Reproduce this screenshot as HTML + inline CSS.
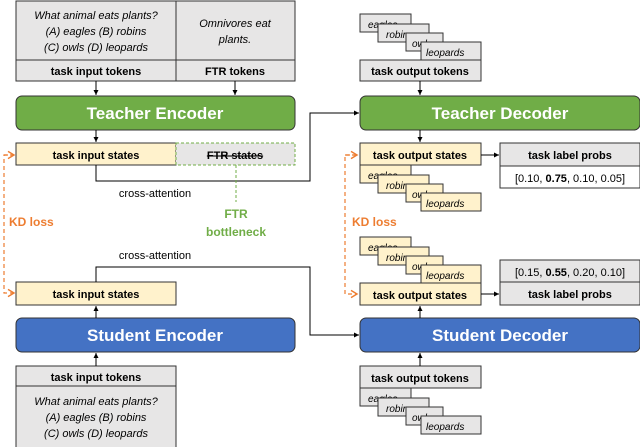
<!DOCTYPE html>
<html><head><style>body{margin:0;background:#fff}svg{display:block}text{font-family:"Liberation Sans",sans-serif}</style></head><body>
<svg width="640" height="447" viewBox="0 0 640 447" xmlns="http://www.w3.org/2000/svg">
<defs><marker id="a" markerWidth="6" markerHeight="6" refX="5" refY="3" orient="auto"><path d="M0,0.5 L5,3 L0,5.5z" fill="#000"/></marker>
<marker id="o" markerWidth="8" markerHeight="8" refX="6" refY="4" orient="auto"><path d="M1,1 L6,4 L1,7" fill="none" stroke="#ED7D31" stroke-width="1.2"/></marker></defs>
<g stroke="#333" stroke-width="1">
<!-- left top box -->
<rect x="16" y="1" width="160" height="59" fill="#E7E6E6"/><rect x="176" y="1" width="119" height="59" fill="#E7E6E6"/>
<rect x="16" y="60" width="160" height="21" fill="#E7E6E6"/><rect x="176" y="60" width="119" height="21" fill="#E7E6E6"/>
<rect x="16" y="96" width="279" height="34" rx="6" fill="#70AD47"/>
<rect x="16" y="143" width="160" height="22" fill="#FFF2CC"/>
<rect x="176" y="143" width="119" height="22" fill="#E7E6E6" stroke="#70AD47" stroke-dasharray="3,2"/>
<rect x="16" y="282" width="160" height="23" fill="#FFF2CC"/>
<rect x="16" y="318" width="279" height="34" rx="6" fill="#4472C4"/>
<rect x="16" y="366" width="160" height="20" fill="#E7E6E6"/><rect x="16" y="386" width="160" height="62" fill="#E7E6E6"/>
<!-- right -->
<rect x="360" y="96" width="280" height="34" rx="6" fill="#70AD47"/>
<rect x="360" y="318" width="280" height="34" rx="6" fill="#4472C4"/>
<rect x="500" y="143" width="140" height="23" fill="#E7E6E6"/><rect x="500" y="166" width="140" height="22" fill="#fff"/>
<rect x="500" y="260" width="140" height="22" fill="#E7E6E6"/><rect x="500" y="282" width="140" height="23" fill="#E7E6E6"/>
</g>
<g font-size="11" fill="#000">
<text x="96" y="19" text-anchor="middle" font-style="italic">What animal eats plants?</text>
<text x="96" y="35" text-anchor="middle" font-style="italic">(A) eagles (B) robins</text>
<text x="96" y="51" text-anchor="middle" font-style="italic">(C) owls (D) leopards</text>
<text x="235" y="27" text-anchor="middle" font-style="italic">Omnivores eat</text>
<text x="235" y="43" text-anchor="middle" font-style="italic">plants.</text>
<text x="96" y="75" text-anchor="middle" font-weight="bold">task input tokens</text>
<text x="235" y="75" text-anchor="middle" font-weight="bold">FTR tokens</text>
<text x="96" y="159" text-anchor="middle" font-weight="bold">task input states</text>
<text x="235" y="159" text-anchor="middle" font-weight="bold" text-decoration="line-through">FTR states</text>
<text x="96" y="298" text-anchor="middle" font-weight="bold">task input states</text>
<text x="96" y="381" text-anchor="middle" font-weight="bold">task input tokens</text>
<text x="96" y="405" text-anchor="middle" font-style="italic">What animal eats plants?</text>
<text x="96" y="421" text-anchor="middle" font-style="italic">(A) eagles (B) robins</text>
<text x="96" y="437" text-anchor="middle" font-style="italic">(C) owls (D) leopards</text>
<text x="155" y="197" text-anchor="middle">cross-attention</text>
<text x="155" y="259" text-anchor="middle">cross-attention</text>
<text x="570" y="159" text-anchor="middle" font-weight="bold">task label probs</text>
<text x="570" y="182" text-anchor="middle">[0.10, <tspan font-weight="bold">0.75</tspan>, 0.10, 0.05]</text>
<text x="570" y="276" text-anchor="middle">[0.15, <tspan font-weight="bold">0.55</tspan>, 0.20, 0.10]</text>
<text x="570" y="298" text-anchor="middle" font-weight="bold">task label probs</text>
</g>
<g font-size="12" font-weight="bold">
<text x="236" y="218" text-anchor="middle" fill="#70AD47">FTR</text>
<text x="236" y="236" text-anchor="middle" fill="#70AD47">bottleneck</text>
<text x="9" y="226" fill="#ED7D31">KD loss</text>
<text x="352" y="226" fill="#ED7D31">KD loss</text>
</g>
<g font-size="17" font-weight="bold" fill="#fff" text-anchor="middle">
<text x="155" y="119">Teacher Encoder</text><text x="500" y="119">Teacher Decoder</text>
<text x="155" y="341">Student Encoder</text><text x="500" y="341">Student Decoder</text>
</g>
<!-- stacks -->
<g id="s1" font-size="10" font-style="italic" stroke="#333">
<rect x="360" y="14" width="51" height="18" fill="#E7E6E6"/><text x="368" y="28" stroke="none">eagles</text>
<rect x="378" y="24" width="51" height="18" fill="#E7E6E6"/><text x="386" y="38" stroke="none">robins</text>
<rect x="406" y="33" width="37" height="18" fill="#E7E6E6"/><text x="412" y="47" stroke="none">owls</text>
<rect x="421" y="42" width="60" height="18" fill="#E7E6E6"/><text x="426" y="56" stroke="none">leopards</text>
<rect x="360" y="60" width="121" height="21" fill="#E7E6E6"/><text x="420" y="75" stroke="none" text-anchor="middle" font-style="normal" font-weight="bold" font-size="11">task output tokens</text>
</g>
<g font-size="10" font-style="italic" stroke="#333">
<rect x="360" y="143" width="121" height="22" fill="#FFF2CC"/><text x="420" y="159" stroke="none" text-anchor="middle" font-style="normal" font-weight="bold" font-size="11">task output states</text>
<rect x="360" y="165" width="51" height="18" fill="#FFF2CC"/><text x="368" y="179" stroke="none">eagles</text>
<rect x="378" y="175" width="51" height="18" fill="#FFF2CC"/><text x="386" y="189" stroke="none">robins</text>
<rect x="406" y="184" width="37" height="18" fill="#FFF2CC"/><text x="412" y="198" stroke="none">owls</text>
<rect x="421" y="193" width="60" height="18" fill="#FFF2CC"/><text x="426" y="207" stroke="none">leopards</text>
</g>
<g font-size="10" font-style="italic" stroke="#333">
<rect x="360" y="237" width="51" height="18" fill="#FFF2CC"/><text x="368" y="251" stroke="none">eagles</text>
<rect x="378" y="247" width="51" height="18" fill="#FFF2CC"/><text x="386" y="261" stroke="none">robins</text>
<rect x="406" y="256" width="37" height="18" fill="#FFF2CC"/><text x="412" y="270" stroke="none">owls</text>
<rect x="421" y="265" width="60" height="18" fill="#FFF2CC"/><text x="426" y="279" stroke="none">leopards</text>
<rect x="360" y="283" width="121" height="22" fill="#FFF2CC"/><text x="420" y="299" stroke="none" text-anchor="middle" font-style="normal" font-weight="bold" font-size="11">task output states</text>
</g>
<g font-size="10" font-style="italic" stroke="#333">
<rect x="360" y="366" width="121" height="22" fill="#E7E6E6"/><text x="420" y="382" stroke="none" text-anchor="middle" font-style="normal" font-weight="bold" font-size="11">task output tokens</text>
<rect x="360" y="388" width="51" height="18" fill="#E7E6E6"/><text x="368" y="402" stroke="none">eagles</text>
<rect x="378" y="398" width="51" height="18" fill="#E7E6E6"/><text x="386" y="412" stroke="none">robins</text>
<rect x="406" y="407" width="37" height="18" fill="#E7E6E6"/><text x="412" y="421" stroke="none">owls</text>
<rect x="421" y="416" width="60" height="18" fill="#E7E6E6"/><text x="426" y="430" stroke="none">leopards</text>
</g>
<!-- connectors -->
<g stroke="#000" stroke-width="1" fill="none">
<line x1="96" y1="81" x2="96" y2="95" marker-end="url(#a)"/>
<line x1="235" y1="81" x2="235" y2="95" marker-end="url(#a)"/>
<line x1="96" y1="130" x2="96" y2="142" marker-end="url(#a)"/>
<polyline points="96,165 96,181 310,181 310,113 359,113" marker-end="url(#a)"/>
<line x1="96" y1="318" x2="96" y2="306" marker-end="url(#a)"/>
<line x1="96" y1="366" x2="96" y2="353" marker-end="url(#a)"/>
<polyline points="96,282 96,267 310,267 310,335 359,335" marker-end="url(#a)"/>
<line x1="420" y1="81" x2="420" y2="95" marker-end="url(#a)"/>
<line x1="420" y1="130" x2="420" y2="142" marker-end="url(#a)"/>
<line x1="481" y1="155" x2="499" y2="155" marker-end="url(#a)"/>
<line x1="481" y1="294" x2="499" y2="294" marker-end="url(#a)"/>
<line x1="420" y1="318" x2="420" y2="306" marker-end="url(#a)"/>
<line x1="420" y1="366" x2="420" y2="353" marker-end="url(#a)"/>
</g>
<line x1="236" y1="165" x2="236" y2="202" stroke="#70AD47" stroke-dasharray="3,2"/>
<g stroke="#ED7D31" stroke-width="1.2" fill="none" stroke-dasharray="4,3">
<polyline points="14,155 4,155 4,293 14,293" marker-end="url(#o)"/>
<line x1="4" y1="155" x2="14" y2="155" marker-end="url(#o)"/>
<polyline points="357,155 345,155 345,294 357,294" marker-end="url(#o)"/>
<line x1="345" y1="155" x2="357" y2="155" marker-end="url(#o)"/>
</g>
</svg>
</body></html>
